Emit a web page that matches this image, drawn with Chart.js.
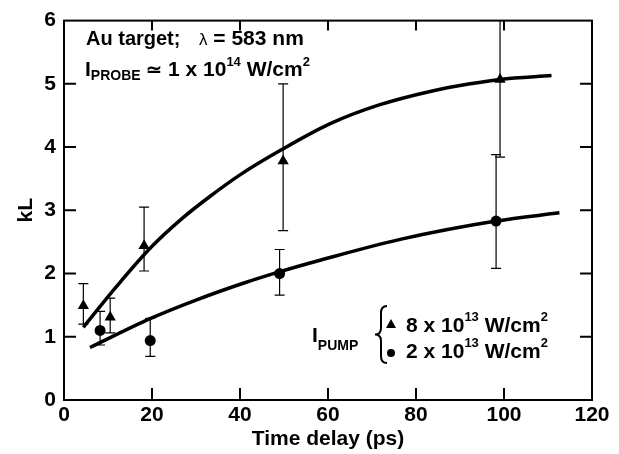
<!DOCTYPE html>
<html>
<head>
<meta charset="utf-8">
<script src="https://cdn.jsdelivr.net/npm/chart.js@4"></script>
<style>
  html, body { margin: 0; padding: 0; background: #fff; }
  #wrap { width: 619px; height: 454px; }
</style>
</head>
<body>
<div id="wrap"><canvas id="kl"></canvas></div>
<script>
// --- data ---
const xTicks = [0, 20, 40, 60, 80, 100, 120];
const yTicks = [0, 1, 2, 3, 4, 5, 6];

// I_pump = 8e13 W/cm2 (triangles)
const highX = [4.4, 10.5, 18.2, 49.8, 99.1];
const highY = [1.49, 1.31, 2.44, 3.78, 5.07];
const highLo = [1.20, 1.06, 2.04, 2.68, 3.84];
const highHi = [1.84, 1.61, 3.05, 5.0, 6.4];

// I_pump = 2e13 W/cm2 (circles)
const lowX = [8.2, 19.6, 49.0, 98.2];
const lowY = [1.10, 0.94, 2.0, 2.83];
const lowLo = [0.87, 0.69, 1.66, 2.08];
const lowHi = [1.40, 1.29, 2.38, 3.88];

// fitted curves as drawn
const fitHighX = [4.4, 12, 20, 27, 33, 40, 49.5, 60.5, 71.8, 83.2, 92.3, 99.1, 110.8];
const fitHighY = [1.15, 1.80, 2.43, 2.88, 3.21, 3.56, 3.96, 4.37, 4.67, 4.88, 5.00, 5.07, 5.13];
const fitLowX = [5.9, 19.7, 30, 40.9, 49.1, 58.2, 76.4, 98.2, 112.6];
const fitLowY = [0.83, 1.29, 1.58, 1.85, 2.03, 2.21, 2.54, 2.83, 2.96];

const FONT = '"Liberation Sans", Arial, Helvetica, sans-serif';
const pts = (xs, ys) => xs.map((x, i) => ({ x: x, y: ys[i] }));

// draw a run of text pieces: [text, size, dy, weight, absoluteX]
function rich(ctx, x, y, parts) {
  let cx = x;
  parts.forEach(p => {
    if (p[4] !== undefined) cx = p[4];
    ctx.font = (p[3] || 'bold') + ' ' + p[1] + 'px ' + FONT;
    ctx.fillText(p[0], cx, y + (p[2] || 0));
    cx += ctx.measureText(p[0]).width;
  });
}

const errorBars = {
  id: 'errorBars',
  afterDatasetsDraw(chart) {
    const ctx = chart.ctx, xs = chart.scales.x, ys = chart.scales.y;
    const area = chart.chartArea;
    ctx.save();
    ctx.beginPath();
    ctx.rect(area.left, area.top, area.right - area.left, area.bottom - area.top);
    ctx.clip();
    ctx.strokeStyle = '#000';
    ctx.lineWidth = 1.2;
    const draw = (X, lo, hi) => {
      X.forEach((v, i) => {
        const px = xs.getPixelForValue(v);
        const a = ys.getPixelForValue(lo[i]);
        const b = ys.getPixelForValue(hi[i]);
        ctx.beginPath();
        ctx.moveTo(px, a); ctx.lineTo(px, b);
        ctx.moveTo(px - 5, a); ctx.lineTo(px + 5, a);
        ctx.moveTo(px - 5, b); ctx.lineTo(px + 5, b);
        ctx.stroke();
      });
    };
    draw(highX, highLo, highHi);
    draw(lowX, lowLo, lowHi);
    ctx.restore();
  }
};

const frame = {
  id: 'frame',
  afterDraw(chart) {
    const ctx = chart.ctx, a = chart.chartArea;
    const xs = chart.scales.x, ys = chart.scales.y;
    ctx.save();
    ctx.strokeStyle = '#000';
    ctx.lineWidth = 2;
    ctx.strokeRect(a.left, a.top, a.right - a.left, a.bottom - a.top);
    ctx.beginPath();
    // inward ticks on all four sides
    yTicks.slice(1, -1).forEach(v => {
      const py = ys.getPixelForValue(v);
      ctx.moveTo(a.left, py); ctx.lineTo(a.left + 12, py);
      ctx.moveTo(a.right, py); ctx.lineTo(a.right - 12, py);
    });
    xTicks.slice(1, -1).forEach(v => {
      const px = xs.getPixelForValue(v);
      ctx.moveTo(px, a.bottom); ctx.lineTo(px, a.bottom - 12);
      ctx.moveTo(px, a.top); ctx.lineTo(px, a.top + 10);
    });
    ctx.stroke();

    // annotations
    ctx.fillStyle = '#000';
    ctx.textBaseline = 'alphabetic';
    rich(ctx, 86, 45, [['Au target;', 20], ['\u03bb', 17, 0, 'normal', 199], [' = 583 nm', 21]]);
    rich(ctx, 85, 76, [['I', 21], ['PROBE', 14, 4], [' \u2243 ', 19], ['1 x 10', 21, 0, 'bold', 168],
      ['14', 13, -10], [' W/cm', 21], ['2', 13, -10]]);

    // pump legend
    rich(ctx, 312, 342, [['I', 21], ['PUMP', 14, 8]]);
    ctx.lineWidth = 2;
    ctx.beginPath();
    ctx.moveTo(387, 306);
    ctx.quadraticCurveTo(381, 306, 381, 313);
    ctx.lineTo(381, 328);
    ctx.quadraticCurveTo(381, 334.5, 375, 334.5);
    ctx.quadraticCurveTo(381, 334.5, 381, 341);
    ctx.lineTo(381, 356);
    ctx.quadraticCurveTo(381, 363, 387, 363);
    ctx.stroke();
    ctx.beginPath();
    ctx.moveTo(391, 319); ctx.lineTo(396, 328); ctx.lineTo(386, 328); ctx.closePath();
    ctx.fill();
    ctx.beginPath();
    ctx.arc(391, 353, 4, 0, Math.PI * 2);
    ctx.fill();
    rich(ctx, 406, 332, [['8 x 10', 21], ['13', 13, -11], [' W/cm', 21], ['2', 13, -11]]);
    rich(ctx, 406, 358, [['2 x 10', 21], ['13', 13, -11], [' W/cm', 21], ['2', 13, -11]]);
    ctx.restore();
  }
};

new Chart(document.getElementById('kl'), {
  type: 'scatter',
  data: {
    datasets: [
      {
        type: 'line', data: pts(fitHighX, fitHighY), borderColor: '#000', borderWidth: 3.5,
        pointRadius: 0, cubicInterpolationMode: 'monotone', fill: false
      },
      {
        type: 'line', data: pts(fitLowX, fitLowY), borderColor: '#000', borderWidth: 3.5,
        pointRadius: 0, cubicInterpolationMode: 'monotone', fill: false
      },
      {
        data: pts(highX, highY), pointStyle: 'triangle', pointRadius: 6.5,
        backgroundColor: '#000', borderColor: '#000', borderWidth: 0
      },
      {
        data: pts(lowX, lowY), pointStyle: 'circle', pointRadius: 5.5,
        backgroundColor: '#000', borderColor: '#000', borderWidth: 0
      }
    ]
  },
  options: {
    responsive: true,
    maintainAspectRatio: false,
    animation: false,
    layout: { padding: { top: 14, right: 27, left: 0, bottom: 0 } },
    plugins: { legend: { display: false }, tooltip: { enabled: false } },
    scales: {
      x: {
        type: 'linear', min: 0, max: 120,
        afterBuildTicks: s => { s.ticks = xTicks.map(v => ({ value: v })); },
        afterFit: s => { s.height = 54; },
        grid: { display: false, drawTicks: false },
        border: { display: false },
        ticks: { color: '#000', padding: 3, font: { family: FONT, size: 21, weight: 'bold' } },
        title: {
          display: true, text: 'Time delay (ps)', color: '#000',
          font: { family: FONT, size: 21, weight: 'bold' }, padding: { top: 0, bottom: 2 }
        }
      },
      y: {
        type: 'linear', min: 0, max: 6,
        afterBuildTicks: s => { s.ticks = yTicks.map(v => ({ value: v })); },
        afterFit: s => { s.width = 64; },
        grid: { display: false, drawTicks: false },
        border: { display: false },
        ticks: { color: '#000', padding: 8, font: { family: FONT, size: 21, weight: 'bold' } },
        title: {
          display: true, text: 'kL', color: '#000',
          font: { family: FONT, size: 21, weight: 'bold' }, padding: { top: 14, bottom: 0 }
        }
      }
    }
  },
  plugins: [errorBars, frame]
});
</script>
</body>
</html>
